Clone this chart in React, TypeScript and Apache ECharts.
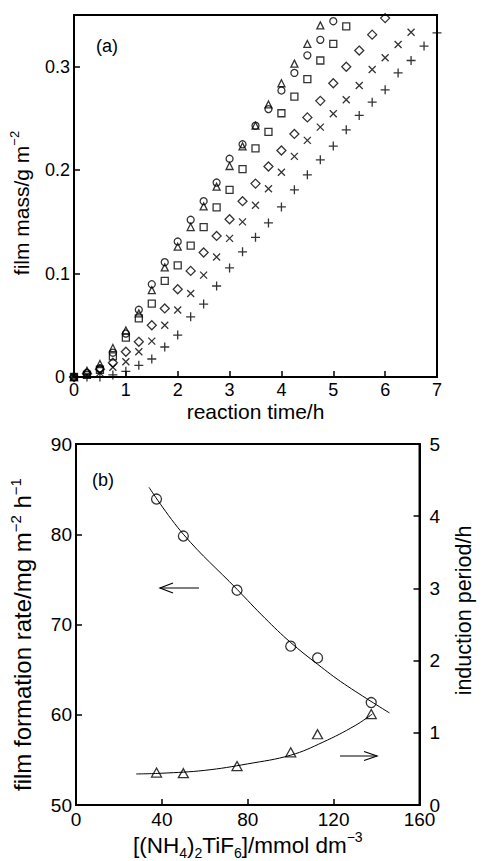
import React, { useEffect, useRef } from "react";
import * as echarts from "echarts";

// ---------- Panel (a): film mass vs reaction time ----------
const TIME = [0, 0.25, 0.5, 0.75, 1, 1.25, 1.5, 1.75, 2, 2.25, 2.5, 2.75, 3, 3.25, 3.5, 3.75, 4, 4.25, 4.5, 4.75, 5, 5.25, 5.5, 5.75, 6, 6.25, 6.5, 6.75, 7];
const X_TICKS_A = [0, 1, 2, 3, 4, 5, 6, 7];
const Y_TICKS_A = [0, 0.1, 0.2, 0.3];

const TRIANGLE_A = [0, 0.006, 0.0125, 0.028, 0.045, 0.0615, 0.084, 0.106, 0.126, 0.145, 0.165, 0.184, 0.204, 0.223, 0.243, 0.2635, 0.284, 0.303, 0.322, 0.34];
const CIRCLE_A = [0, 0.004, 0.0084, 0.0235, 0.042, 0.065, 0.0897, 0.111, 0.131, 0.152, 0.17, 0.188, 0.211, 0.225, 0.243, 0.259, 0.277, 0.294, 0.311, 0.326, 0.344];
const SQUARE_A = [0, 0.002, 0.007, 0.02, 0.038, 0.0566, 0.071, 0.093, 0.108, 0.127, 0.145, 0.164, 0.181, 0.201, 0.221, 0.237, 0.255, 0.271, 0.288, 0.306, 0.322, 0.339];
const DIAMOND_A = [0, 0.0035, 0.0074, 0.0138, 0.0244, 0.034, 0.05, 0.0663, 0.0848, 0.1026, 0.1204, 0.1364, 0.1525, 0.17, 0.187, 0.2035, 0.219, 0.235, 0.251, 0.267, 0.284, 0.3, 0.3156, 0.331, 0.347];
const CROSS_A = [0, 0.002, 0.004, 0.0094, 0.0148, 0.0244, 0.0347, 0.05, 0.0647, 0.0808, 0.0985, 0.116, 0.134, 0.15, 0.166, 0.182, 0.198, 0.2133, 0.2288, 0.2416, 0.2545, 0.268, 0.2819, 0.2973, 0.3086, 0.3214, 0.3333];
const PLUS_A = [0, 0, 0, 0.002, 0.0055, 0.0113, 0.0174, 0.029, 0.0405, 0.0582, 0.0705, 0.088, 0.1055, 0.121, 0.135, 0.149, 0.1644, 0.181, 0.1955, 0.21, 0.2233, 0.239, 0.2529, 0.2657, 0.2777, 0.294, 0.306, 0.32, 0.3327];

// ---------- Panel (b): rate & induction vs concentration ----------
const CONC = [37.5, 50, 75, 100, 112.5, 137.5];
const RATE = [83.9, 79.8, 73.8, 67.6, 66.3, 61.35];
const INDUCTION = [0.45, 0.44, 0.54, 0.73, 0.98, 1.26];
const RATE_FIT_X = [34, 50, 75, 88, 100, 112.5, 125, 146];
const RATE_FIT_Y = [85.2, 80.0, 73.9, 70.7, 68.0, 65.6, 63.4, 60.2];
const IND_FIT_X = [28, 40, 60, 80, 100, 115, 130, 138];
const IND_FIT_Y = [0.43, 0.44, 0.48, 0.57, 0.69, 0.87, 1.1, 1.26];

const FONT = "'Liberation Sans', Arial, Helvetica, sans-serif";
const BLACK = "#000";

const pairs = (xs: number[], ys: number[]) => ys.map((y, i) => [xs[i], y]);

const CROSS_PATH = "path://M0,0L10,10M10,0L0,10";
const PLUS_PATH = "path://M5,0L5,10M0,5L10,5";

export default function App() {
  const ref = useRef<HTMLDivElement>(null);

  useEffect(() => {
    if (!ref.current) return;
    const chart = echarts.init(ref.current, undefined, { renderer: "svg" });

    const tickLabel = (size: number) => ({ color: BLACK, fontSize: size, fontFamily: FONT });
    const nameStyle = (size: number, lh: number, padding: number[]) => ({
      color: BLACK,
      fontSize: size,
      fontFamily: FONT,
      lineHeight: lh,
      padding,
      rich: {
        sup: { fontSize: Math.round(size * 0.62), fontFamily: FONT, color: BLACK, verticalAlign: "top", lineHeight: 14 },
        sub: { fontSize: Math.round(size * 0.62), fontFamily: FONT, color: BLACK, verticalAlign: "bottom", lineHeight: 14 },
      },
    });
    const axisLine = { show: true, lineStyle: { color: BLACK, width: 2 } };
    const axisTick = { show: true, inside: true, length: 6, lineStyle: { color: BLACK, width: 1.5 } };

    const scatterA = (data: number[], symbol: string, size: number | number[]) => ({
      type: "scatter",
      xAxisIndex: 0,
      yAxisIndex: 0,
      symbol,
      symbolSize: size,
      data: pairs(TIME, data),
      itemStyle: { color: "transparent", borderColor: BLACK, borderWidth: 1.3 },
      silent: true,
    });

    const arrowLeft = {
      type: "group",
      children: [
        { type: "line", shape: { x1: 160, y1: 588, x2: 199, y2: 588 }, style: { stroke: BLACK, lineWidth: 1.2 } },
        { type: "polyline", shape: { points: [[173, 583], [160, 588], [173, 593]] }, style: { stroke: BLACK, lineWidth: 1.2, fill: null } },
      ],
    };
    const arrowRight = {
      type: "group",
      children: [
        { type: "line", shape: { x1: 340, y1: 756, x2: 377, y2: 756 }, style: { stroke: BLACK, lineWidth: 1.2 } },
        { type: "polyline", shape: { points: [[364, 751.5], [377, 756], [364, 760.5]] }, style: { stroke: BLACK, lineWidth: 1.2, fill: null } },
      ],
    };

    chart.setOption({
      animation: false,
      backgroundColor: "#fff",
      grid: [
        { left: 73, top: 15, width: 364, height: 362, show: true, borderColor: BLACK, borderWidth: 2, backgroundColor: "transparent" },
        { left: 73, top: 444, width: 363, height: 362, show: true, borderColor: BLACK, borderWidth: 2, backgroundColor: "transparent" },
      ],
      xAxis: [
        {
          type: "value",
          gridIndex: 0,
          min: X_TICKS_A[0],
          max: X_TICKS_A[X_TICKS_A.length - 1],
          interval: 1,
          axisLine,
          axisTick,
          splitLine: { show: false },
          axisLabel: { ...tickLabel(18), margin: 4 },
          name: "reaction time/h",
          nameLocation: "middle",
          nameGap: 22,
          nameTextStyle: nameStyle(21, 24, [0, 0, 0, 0]),
        },
        {
          type: "value",
          gridIndex: 1,
          min: 0,
          max: 160,
          interval: 40,
          axisLine,
          axisTick,
          splitLine: { show: false },
          axisLabel: { ...tickLabel(19), margin: 5 },
          name: "[(NH{sub|4}){sub|2}TiF{sub|6}]/mmol dm{sup|−3}",
          nameLocation: "middle",
          nameGap: 25,
          nameTextStyle: nameStyle(22.5, 30, [0, 0, 0, 0]),
        },
      ],
      yAxis: [
        {
          type: "value",
          gridIndex: 0,
          min: 0,
          max: 0.35,
          interval: 0.1,
          axisLine,
          axisTick,
          splitLine: { show: false },
          axisLabel: {
            ...tickLabel(18),
            margin: 4,
            formatter: (v: number) => {
              const hit = Y_TICKS_A.find((t) => Math.abs(t - v) < 1e-9);
              if (hit === undefined) return "";
              return hit === 0 ? "{z|0}" : String(hit);
            },
            rich: { z: { fontSize: 18, fontFamily: FONT, color: BLACK, padding: [0, 5, 0, 0] } },
          },
          name: "film mass/g m{sup|−2}",
          nameLocation: "middle",
          nameRotate: 90,
          nameGap: 40,
          nameTextStyle: nameStyle(21, 26, [0, 14, 0, 0]),
        },
        {
          type: "value",
          gridIndex: 1,
          position: "left",
          min: 50,
          max: 90,
          interval: 10,
          axisLine,
          axisTick,
          splitLine: { show: false },
          axisLabel: { ...tickLabel(19), margin: 4 },
          name: "film formation rate/mg m{sup|−2} h{sup|−1}",
          nameLocation: "middle",
          nameRotate: 90,
          nameGap: 40,
          nameTextStyle: nameStyle(24, 28, [0, 20, 0, 0]),
        },
        {
          type: "value",
          gridIndex: 1,
          position: "right",
          min: 0,
          max: 5,
          interval: 1,
          axisLine,
          axisTick,
          splitLine: { show: false },
          axisLabel: { ...tickLabel(19), margin: 10 },
          name: "induction period/h",
          nameLocation: "middle",
          nameRotate: 90,
          nameGap: 24,
          nameTextStyle: nameStyle(21.5, 26, [0, 0, 0, 28]),
        },
      ],
      series: [
        scatterA(PLUS_A, PLUS_PATH, 9),
        scatterA(CROSS_A, CROSS_PATH, 7),
        scatterA(DIAMOND_A, "diamond", 9),
        scatterA(SQUARE_A, "rect", 7),
        scatterA(CIRCLE_A, "circle", 7),
        scatterA(TRIANGLE_A, "triangle", 7),
        {
          type: "line",
          xAxisIndex: 1,
          yAxisIndex: 1,
          data: pairs(RATE_FIT_X, RATE_FIT_Y),
          smooth: 0.4,
          showSymbol: false,
          lineStyle: { color: BLACK, width: 1 },
          silent: true,
        },
        {
          type: "line",
          xAxisIndex: 1,
          yAxisIndex: 2,
          data: pairs(IND_FIT_X, IND_FIT_Y),
          smooth: 0.4,
          showSymbol: false,
          lineStyle: { color: BLACK, width: 1 },
          silent: true,
        },
        {
          type: "scatter",
          xAxisIndex: 1,
          yAxisIndex: 1,
          symbol: "circle",
          symbolSize: 10,
          data: pairs(CONC, RATE),
          itemStyle: { color: "#fff", borderColor: BLACK, borderWidth: 1.3 },
          silent: true,
        },
        {
          type: "scatter",
          xAxisIndex: 1,
          yAxisIndex: 2,
          symbol: "triangle",
          symbolSize: [10, 9],
          data: pairs(CONC, INDUCTION),
          itemStyle: { color: "#fff", borderColor: BLACK, borderWidth: 1.3 },
          silent: true,
        },
      ],
      graphic: [
        { type: "text", x: 107, y: 46, style: { text: "(a)", font: `18px ${FONT}`, fill: BLACK, align: "center", verticalAlign: "middle" } },
        { type: "text", x: 103, y: 480, style: { text: "(b)", font: `18px ${FONT}`, fill: BLACK, align: "center", verticalAlign: "middle" } },
        arrowLeft,
        arrowRight,
      ],
    });

    return () => chart.dispose();
  }, []);

  return <div ref={ref} style={{ position: "absolute", left: 0, top: 0, width: 485, height: 861 }} />;
}
